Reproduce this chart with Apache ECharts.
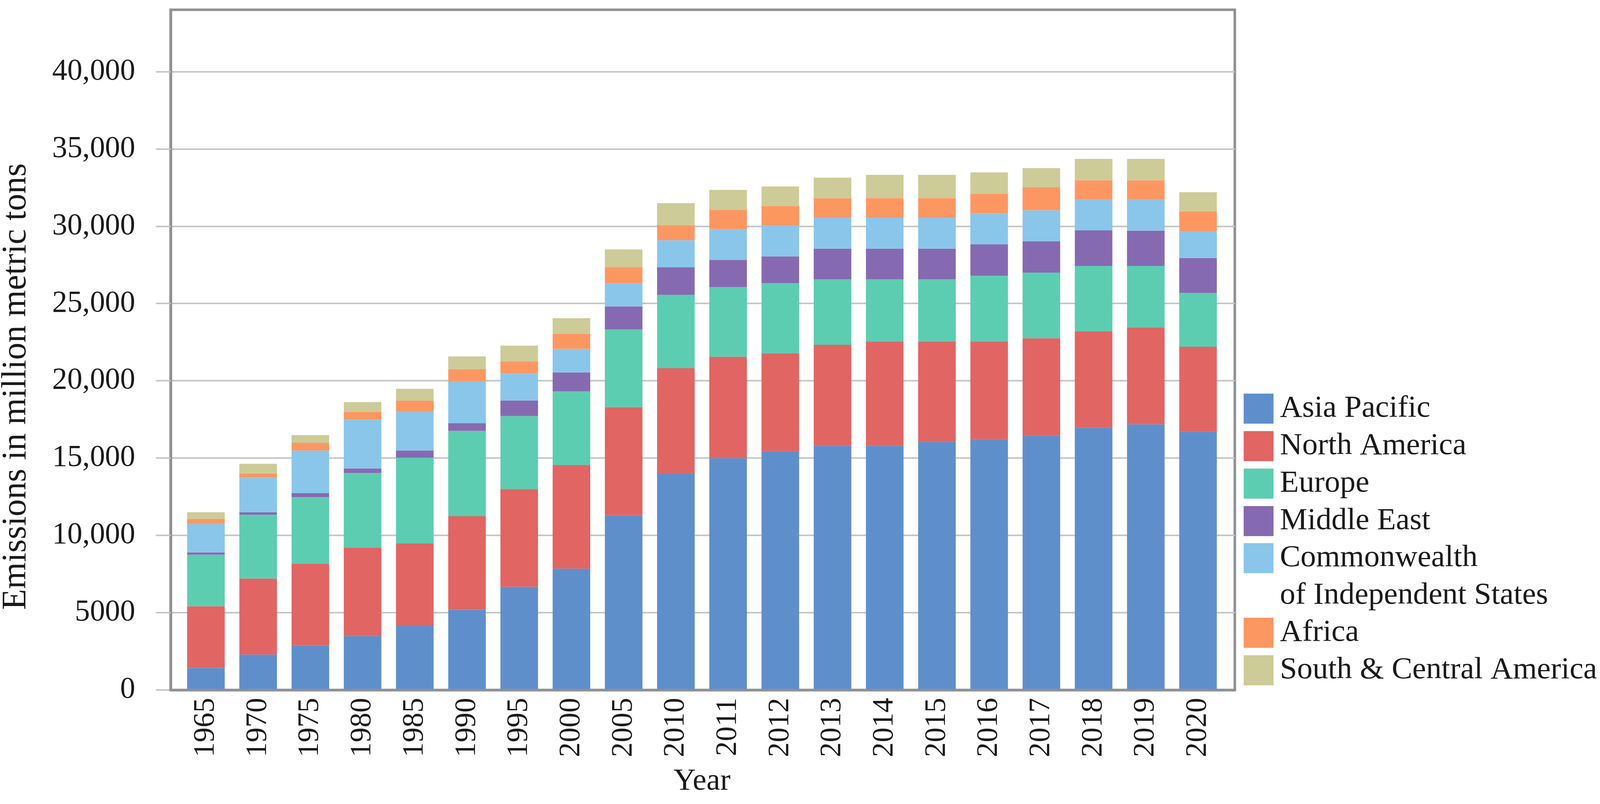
<!DOCTYPE html>
<html>
<head>
<meta charset="utf-8">
<script src="https://cdn.jsdelivr.net/npm/echarts@6/dist/echarts.min.js"></script>
<style>
html,body{margin:0;padding:0;background:#fff;overflow:hidden;}
#chart{width:100vw;height:100vh;}
</style>
</head>
<body>
<div id="chart"></div>
<script>
const years = ['1965','1970','1975','1980','1985','1990','1995','2000','2005','2010','2011','2012','2013','2014','2015','2016','2017','2018','2019','2020'];
const asiaPacific = [1430, 2290, 2890, 3490, 4190, 5190, 6680, 7850, 11310, 14020, 15000, 15450, 15790, 15790, 16060, 16220, 16450, 16970, 17190, 16700];
const northAmerica = [3990, 4920, 5290, 5720, 5280, 6050, 6320, 6700, 6990, 6790, 6560, 6330, 6540, 6760, 6490, 6330, 6300, 6220, 6270, 5500];
const europe = [3330, 4130, 4290, 4820, 5560, 5520, 4720, 4770, 5020, 4750, 4500, 4530, 4230, 4010, 4010, 4250, 4250, 4240, 3970, 3490];
const middleEast = [150, 160, 260, 300, 460, 490, 1000, 1220, 1490, 1790, 1760, 1740, 1990, 1990, 1990, 2020, 2030, 2300, 2280, 2250];
const cis = [1840, 2230, 2760, 3160, 2500, 2730, 1760, 1520, 1500, 1740, 1990, 2010, 2010, 2010, 2010, 2010, 2000, 1980, 2000, 1740];
const africa = [330, 260, 500, 500, 730, 760, 760, 990, 1040, 970, 1250, 1250, 1240, 1260, 1260, 1270, 1480, 1260, 1260, 1260];
const southCentralAmerica = [430, 640, 500, 630, 760, 840, 1030, 1000, 1150, 1430, 1290, 1260, 1340, 1500, 1500, 1380, 1250, 1380, 1380, 1260];
const yTicks = [0, 5000, 10000, 15000, 20000, 25000, 30000, 35000, 40000];

const seriesDefs = [
  {name: 'Asia Pacific', data: asiaPacific, color: '#5f8fca'},
  {name: 'North America', data: northAmerica, color: '#e16563'},
  {name: 'Europe', data: europe, color: '#5ccdb1'},
  {name: 'Middle East', data: middleEast, color: '#866ab1'},
  {name: 'Commonwealth of Independent States', data: cis, color: '#89c6ea'},
  {name: 'Africa', data: africa, color: '#fd9762'},
  {name: 'South & Central America', data: southCentralAmerica, color: '#cdcb97'}
];

const dom = document.getElementById('chart');
const chart = echarts.init(dom, null, {renderer: 'canvas'});
const W = chart.getWidth(), H = chart.getHeight();
const sx = W / 4342, sy = H / 2059, sf = Math.min(sx, sy);
const X = v => v * sx, Y = v => v * sy, F = v => v * sf;

const FONT = 'Liberation Serif';
const TXT = '#1a1a1a';
const FRAME = '#8f9195';
const GRIDC = '#c6c6c6';
const legendText = {fontFamily: FONT, fontSize: X(84), lineHeight: Y(96), color: TXT, padding: [0, 0, 0, X(12)]};
const legendBase = {orient: 'vertical', left: X(3375), itemWidth: X(81), itemHeight: Y(77), itemGap: 0,
  icon: 'rect', padding: 0, selectedMode: false, textStyle: legendText};

chart.setOption({
  animation: false,
  backgroundColor: '#ffffff',
  grid: [
    {left: X(463), right: W - X(3351), top: Y(25), bottom: H - Y(1767), show: true,
     borderColor: FRAME, borderWidth: F(7), backgroundColor: 'transparent'},
    {left: X(488), right: W - X(3322), top: Y(25), bottom: H - Y(1767)}
  ],
  xAxis: [
    {type: 'value', gridIndex: 0, min: 0, max: 1, z: 10,
     axisLine: {show: true, lineStyle: {color: FRAME, width: F(7)}},
     axisTick: {show: false}, axisLabel: {show: false}, splitLine: {show: false}},
    {type: 'category', gridIndex: 1, data: years, boundaryGap: true,
     axisLine: {show: false}, axisTick: {show: false},
     axisLabel: {rotate: 90, margin: Y(20), fontFamily: FONT, fontSize: Y(76), color: TXT, interval: 0},
     name: 'Year', nameLocation: 'middle', nameGap: Y(195),
     nameTextStyle: {fontFamily: FONT, fontSize: X(84), color: TXT}}
  ],
  yAxis: [
    {type: 'value', gridIndex: 0, min: 0, max: 44000, interval: 5000,
     axisLine: {show: true, lineStyle: {color: FRAME, width: F(7)}},
     axisTick: {show: true, length: X(40), inside: false, customValues: yTicks, lineStyle: {color: GRIDC, width: F(4)}},
     axisLabel: {margin: X(96), fontFamily: FONT, fontSize: X(82), color: TXT, customValues: yTicks,
       formatter: function (v) { return v >= 10000 ? v.toLocaleString('en-US') : String(v); }},
     splitLine: {show: true, lineStyle: {color: GRIDC, width: F(4)}}},
    {type: 'value', gridIndex: 1, min: 0, max: 44000, show: false}
  ],
  legend: [
    Object.assign({}, legendBase, {top: Y(998.5), data: ['Asia Pacific', 'North America', 'Europe', 'Middle East']}),
    Object.assign({}, legendBase, {top: Y(1285.5),
      data: ['Commonwealth of Independent States'],
      formatter: function () { return '\nCommonwealth\nof Independent States'; }}),
    Object.assign({}, legendBase, {top: Y(1572.5), data: ['Africa', 'South & Central America']})
  ],
  graphic: [
    {type: 'text', x: X(44), y: Y(990), rotation: Math.PI / 2,
     style: {text: 'Emissions in million metric tons', fontFamily: FONT, fontSize: Y(88), fill: TXT, align: 'center', verticalAlign: 'middle'}}
  ],
  series: seriesDefs.map(function (s) {
    return {
      name: s.name, type: 'bar', stack: 'total', xAxisIndex: 1, yAxisIndex: 1,
      data: s.data, barCategoryGap: '28%',
      itemStyle: {color: s.color}, emphasis: {disabled: true}
    };
  })
});
</script>
</body>
</html>
